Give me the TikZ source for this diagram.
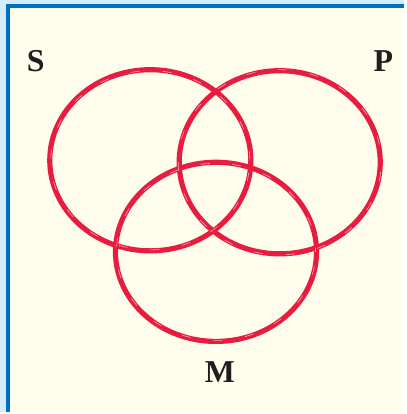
\documentclass[tikz,border=0pt]{standalone}
\usepackage{fontspec}
\setmainfont{Liberation Serif}
\definecolor{cream}{RGB}{255,253,236}
\definecolor{frameblue}{RGB}{0,112,192}
\definecolor{paleblue}{RGB}{212,236,252}
\definecolor{setred}{RGB}{232,28,62}
\begin{document}
\begin{tikzpicture}[
    x=1pt, y=-1pt,
    every node/.style={align=center},
    setlbl/.style={font=\fontsize{32}{32}\selectfont\bfseries, text=black!88, inner sep=0pt},
    setring/.style={draw=setred, line width=5.2pt},
    scratch/.style={draw=white!60!setred, line width=0.6pt, dash pattern=on 9pt off 23pt}
]
% background and frame
\fill[paleblue] (0,0) rectangle (406,414);
\fill[cream] (8,5.5) rectangle (406,414);
\draw[frameblue, line width=3.8pt] (8.2,414) -- (8.2,5.8) -- (406,5.8);
\useasboundingbox (0,0) rectangle (406,414);

% the three sets
\draw[setring] (151,161) ellipse (101pt and 91pt);
\draw[setring] (281,163) ellipse (101pt and 92pt);
\draw[setring] (217,253) ellipse (101pt and 90pt);
\draw[scratch] (151,161) ellipse (100pt and 90pt);
\draw[scratch, dash phase=14pt] (281,163) ellipse (102pt and 93pt);
\draw[scratch, dash phase=5pt] (217,253) ellipse (100pt and 89pt);

% labels
\node[setlbl] (setS) at (36,61) {S};
\node[setlbl] (setP) at (385,61) {P};
\node[setlbl] (setM) at (221,374) {M};
\end{tikzpicture}
\end{document}
